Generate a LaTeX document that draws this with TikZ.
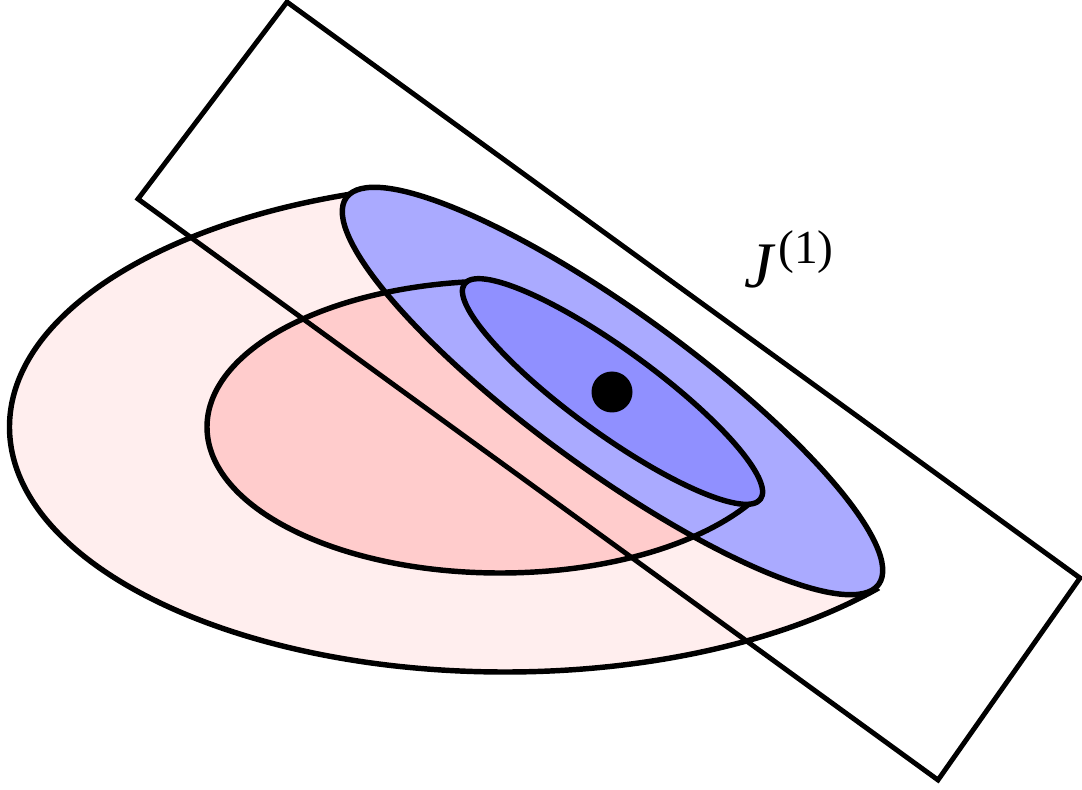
\documentclass[tikz,border=0pt]{standalone}
\usepackage{fontspec}
\newfontfamily\tfont{Liberation Serif}
\usetikzlibrary{calc}
\definecolor{pinkA}{HTML}{FFEEEE}
\definecolor{pinkB}{HTML}{FFCCCC}
\definecolor{blueA}{HTML}{AAAAFF}
\definecolor{blueB}{HTML}{9090FF}
\begin{document}
\begin{tikzpicture}[x=0.02cm,y=-0.02cm,line join=round,
  curve/.style={line width=3.1pt},
  frame/.style={line width=2.8pt,line join=miter},
  blueo/.style={shift={(612.5,391)},rotate=-36},
  bluei/.style={shift={(612.5,391.5)},rotate=-36}]
\useasboundingbox (0,0) rectangle (1082,790);
\coordinate (P1) at (358,192.5);
\coordinate (P2) at (878,588.3);
\coordinate (P3) at (471,281.7);
\coordinate (P4) at (752,501.5);
\coordinate (far) at (-2000,3000);
% outer pink fill
\begin{scope}
\clip ($(P1)!-3!(P2)$) -- ($(P1)!4!(P2)$) -- (far) -- cycle;
\fill[pinkA] (505,427) ellipse [x radius=495.5, y radius=245];
\end{scope}
% inner pink fill
\begin{scope}
\clip ($(P3)!-3!(P4)$) -- ($(P3)!4!(P4)$) -- (far) -- cycle;
\fill[pinkB] (500,427) ellipse [x radius=293, y radius=146];
\end{scope}
% outer pink stroke
\begin{scope}
\clip ($(P1)!-3!(P2)$) -- ($(P1)!4!(P2)$) -- (far) -- cycle;
\draw[curve] (505,427) ellipse [x radius=495.5, y radius=245];
\end{scope}
% outer blue fill
\fill[blueA, blueo] (0,0) ellipse [x radius=329, y radius=79];
% inner pink stroke
\begin{scope}
\clip ($(P3)!-3!(P4)$) -- ($(P3)!4!(P4)$) -- (far) -- cycle;
\draw[curve] (500,427) ellipse [x radius=293, y radius=146];
\end{scope}
% inner blue
\filldraw[fill=blueB, curve, bluei] (0,0) ellipse [x radius=183, y radius=42];
% outer blue stroke
\draw[curve, blueo] (0,0) ellipse [x radius=329, y radius=79];
% rectangle
\draw[frame] (287,2) -- (1080,578) -- (938,780) -- (138,199) -- cycle;
% dot
\fill (612,392) circle [radius=20.5];
% label
\node[anchor=base west, inner sep=0pt] (lab) at (744,288)
  {\tfont\fontsize{37pt}{40pt}\selectfont\textit{J}\kern1.5pt\raisebox{14pt}{\fontsize{27pt}{30pt}\selectfont(1)}};
\end{tikzpicture}
\end{document}
